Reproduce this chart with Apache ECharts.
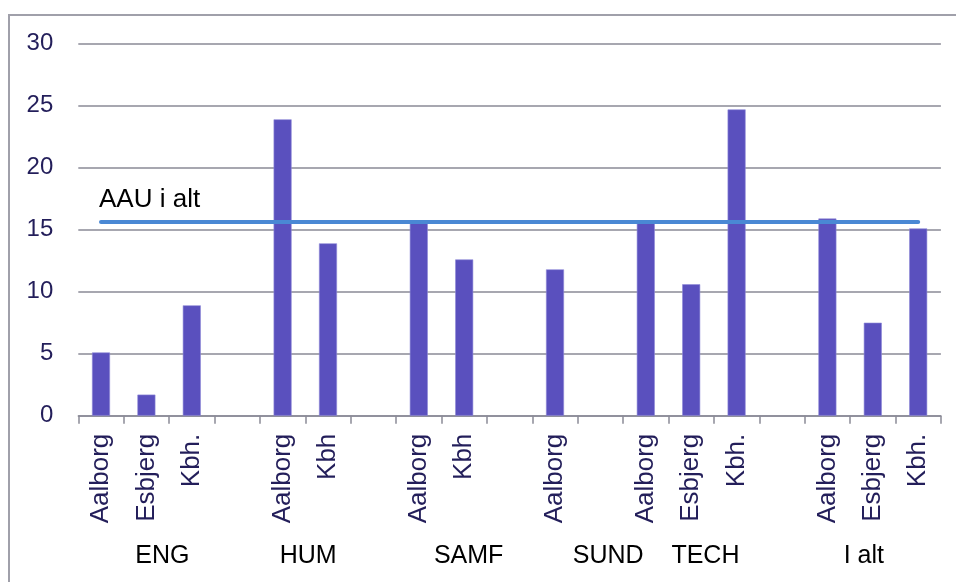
<!DOCTYPE html>
<html>
<head>
<meta charset="utf-8">
<script src="https://cdn.jsdelivr.net/npm/echarts@6/dist/echarts.min.js"></script>
<style>
  html, body { margin: 0; padding: 0; background: #ffffff; }
  #chart { width: 956px; height: 582px; }
</style>
</head>
<body>
<div id="chart"></div>
<script>
// Campus categories; empty entries leave a blank slot between faculties
const campuses = [
  'Aalborg', 'Esbjerg', 'Kbh.', '',
  'Aalborg', 'Kbh', '',
  'Aalborg', 'Kbh', '',
  'Aalborg', '',
  'Aalborg', 'Esbjerg', 'Kbh.', '',
  'Aalborg', 'Esbjerg', 'Kbh.'
];

// Values per campus (null in the blank slots)
const values = [
  5.1, 1.7, 8.9, null,
  23.9, 13.9, null,
  15.6, 12.6, null,
  11.8, null,
  15.6, 10.6, 24.7, null,
  15.9, 7.5, 15.1
];

// Faculty names shown below the campus labels
const faculties = ['ENG', 'HUM', 'SAMF', 'SUND', 'TECH', 'I alt'];

// University-wide reference level
const aauTotal = 15.65;
const aauLabel = 'AAU i alt';

const yTicks = { min: 0, max: 30, interval: 5 };

// Faculty row written as one spaced line under the axis
const gaps = [13, 14, 10, 4, 15];
let facultyLine = faculties[0];
for (let i = 1; i < faculties.length; i++) {
  facultyLine += ' '.repeat(gaps[i - 1]) + faculties[i];
}

const FONT = '"Liberation Sans", Arial, sans-serif';
const NAVY = '#231e5a';
const GRID = '#8a8a96';

const chart = echarts.init(document.getElementById('chart'));
chart.setOption({
  animation: false,
  backgroundColor: '#ffffff',
  graphic: [{
    type: 'rect',
    shape: { x: 9, y: 15, width: 1000, height: 700 },
    style: { fill: 'none', stroke: '#a0a0aa', lineWidth: 2 },
    z: -1
  }],
  grid: { left: 78.3, right: 15.1, top: 43.7, bottom: 166.3 },
  xAxis: {
    type: 'category',
    data: campuses,
    boundaryGap: true,
    axisLine: { lineStyle: { color: GRID, width: 1.5 } },
    axisTick: { show: true, length: 8, lineStyle: { color: GRID, width: 1.5 } },
    axisLabel: {
      interval: 0,
      rotate: 90,
      margin: 18,
      fontSize: 26,
      fontFamily: FONT,
      color: NAVY
    },
    name: facultyLine,
    nameLocation: 'middle',
    nameGap: 128,
    nameTextStyle: { fontSize: 25, fontFamily: FONT, color: '#000000' }
  },
  yAxis: {
    type: 'value',
    min: yTicks.min,
    max: yTicks.max,
    interval: yTicks.interval,
    axisLine: { show: false },
    axisTick: { show: false },
    splitLine: { lineStyle: { color: GRID, width: 1.5 } },
    axisLabel: {
      margin: 25,
      fontSize: 24,
      fontFamily: FONT,
      color: NAVY
    }
  },
  series: [{
    type: 'bar',
    data: values,
    barWidth: 18,
    itemStyle: { color: '#5a50be', borderColor: '#8f89d6', borderWidth: 0.6 },
    markLine: {
      silent: true,
      symbol: 'none',
      z: 10,
      lineStyle: { color: '#4a88d4', width: 4, type: 'solid', cap: 'round' },
      label: {
        show: true,
        position: 'insideStartTop',
        formatter: aauLabel,
        fontSize: 26,
        fontFamily: FONT,
        color: '#000000',
        distance: [ -2, 9 ]
      },
      data: [[
        { coord: [0, aauTotal] },
        { coord: [campuses.length - 1, aauTotal] }
      ]]
    }
  }]
});
</script>
</body>
</html>
